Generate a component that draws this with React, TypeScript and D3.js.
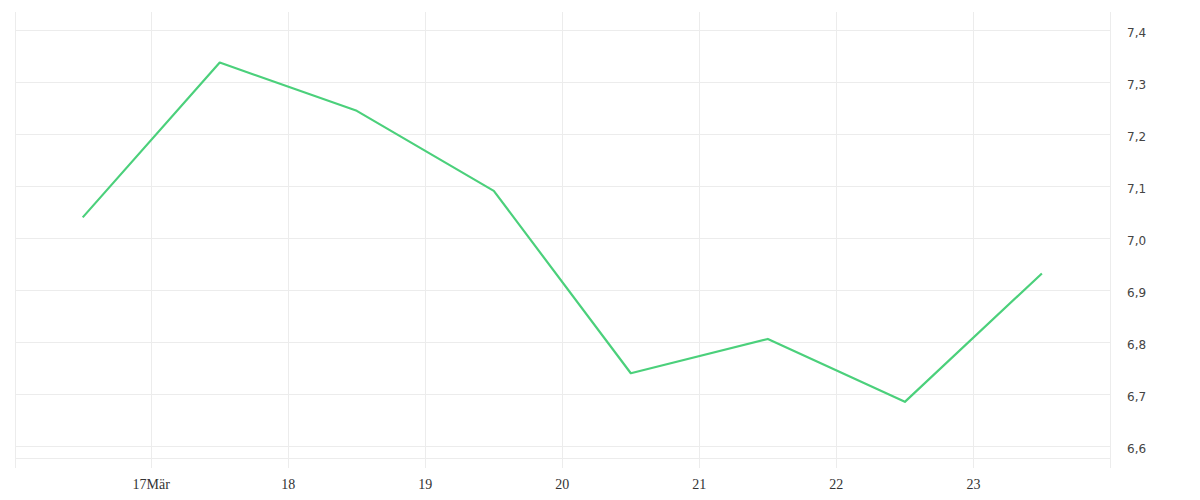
import React, { useEffect, useRef } from 'react';
import * as d3 from 'd3';

// daily values, plotted at noon of each day (March)
const days = [16, 17, 18, 19, 20, 21, 22, 23];
const values = [7.04, 7.338, 7.245, 7.091, 6.74, 6.806, 6.685, 6.932];
const yTicks = [6.6, 6.7, 6.8, 6.9, 7.0, 7.1, 7.2, 7.3, 7.4];
const xTickDays = [17, 18, 19, 20, 21, 22, 23];
const monthLabel = 'Mär';

const YEAR = 2024;

const App: React.FC = () => {
  const svgRef = useRef<SVGSVGElement>(null);

  useEffect(() => {
    if (!svgRef.current) return;

    const width = 1200;
    const height = 500;
    const left = 15;
    const right = 1110;
    const top = 12;
    const bottom = 458;

    const svg = d3.select(svgRef.current)
      .attr('width', width)
      .attr('height', height)
      .html('');

    const x = d3.scaleTime()
      .domain([new Date(YEAR, 2, 16), new Date(YEAR, 2, 24)])
      .range([14.2, 1110.4]);
    const y = d3.scaleLinear()
      .domain([6.5769, 7.4352])
      .range([bottom, top]);

    const grid = svg.append('g')
      .attr('stroke', '#ececec')
      .attr('stroke-width', 1)
      .attr('shape-rendering', 'crispEdges');

    // Horizontal grid
    grid.selectAll('line.h')
      .data(yTicks)
      .join('line')
      .attr('x1', left)
      .attr('x2', right)
      .attr('y1', d => Math.round(y(d)) + 0.5)
      .attr('y2', d => Math.round(y(d)) + 0.5);

    // bottom border
    grid.append('line')
      .attr('x1', left).attr('x2', right)
      .attr('y1', bottom + 0.5).attr('y2', bottom + 0.5);

    // Vertical grid + tick marks
    grid.selectAll('line.v')
      .data(xTickDays)
      .join('line')
      .attr('x1', d => Math.round(x(new Date(YEAR, 2, d))) + 0.5)
      .attr('x2', d => Math.round(x(new Date(YEAR, 2, d))) + 0.5)
      .attr('y1', top)
      .attr('y2', bottom + 10);

    // side borders
    [left, right].forEach(px => {
      grid.append('line')
        .attr('x1', px + 0.5).attr('x2', px + 0.5)
        .attr('y1', top).attr('y2', bottom + 10);
    });

    // Y labels (right side)
    svg.append('g')
      .selectAll('text')
      .data(yTicks)
      .join('text')
      .attr('x', 1127)
      .attr('y', d => y(d) + 7)
      .attr('fill', '#444')
      .attr('font-family', 'DejaVu Sans, sans-serif')
      .attr('font-size', 12)
      .text(d => d3.format('.1f')(d).replace('.', ','));

    // X labels
    svg.append('g')
      .selectAll('text')
      .data(xTickDays)
      .join('text')
      .attr('x', d => x(new Date(YEAR, 2, d)))
      .attr('y', 488.5)
      .attr('fill', '#333')
      .attr('text-anchor', 'middle')
      .attr('font-family', 'Liberation Serif, serif')
      .attr('font-size', 14)
      .text((d, i) => (i === 0 ? `${d}${monthLabel}` : `${d}`));

    const line = d3.line<number>()
      .x((_, i) => x(new Date(YEAR, 2, days[i], 12)))
      .y(d => y(d));

    svg.append('path')
      .datum(values)
      .attr('fill', 'none')
      .attr('stroke', '#4bd07b')
      .attr('stroke-width', 2.2)
      .attr('stroke-linejoin', 'round')
      .attr('d', line);
  }, []);

  return (
    <div style={{ position: 'absolute', left: 0, top: 0, width: 1200, height: 500, background: '#fff' }}>
      <svg ref={svgRef} style={{ display: 'block' }} />
    </div>
  );
};

export default App;
